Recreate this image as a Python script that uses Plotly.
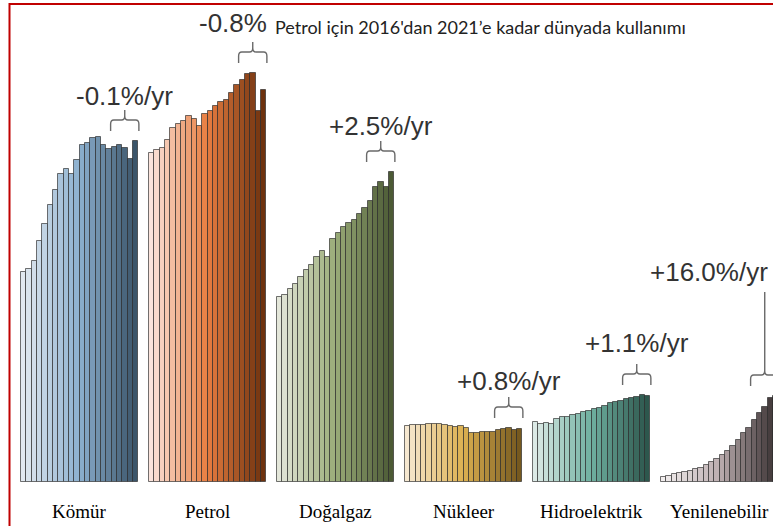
import plotly.graph_objects as go

# ==========================================
# Veri: 2000-2021 birincil enerji tüketimi (görece birim)
# ==========================================
years = list(range(2000, 2022))
sources = ["Kömür", "Petrol", "Doğalgaz", "Nükleer", "Hidroelektrik", "Yenilenebilir"]

komur = [210, 213, 221, 241, 258, 277, 292, 308, 313, 308, 322, 337,
         339, 344, 345, 337, 333, 335, 337, 334, 323, 341]
petrol = [329, 332, 334, 342, 354, 358, 361, 366, 363, 356, 368, 371,
          376, 380, 382, 389, 397, 402, 408, 409, 371, 392]
dogalgaz = [185, 187, 193, 198, 205, 212, 217, 225, 231, 225, 243, 249,
            255, 259, 262, 268, 274, 281, 295, 300, 295, 310]
nukleer = [56, 57, 57, 57, 58, 58, 58, 57, 56, 55, 56, 54,
           49, 49, 50, 50, 50, 52, 53, 54, 52, 53]
hidro = [60, 58, 59, 58, 63, 65, 65, 67, 68, 70, 71, 73,
         74, 76, 79, 80, 81, 83, 84, 85, 87, 86]
yenilenebilir = [5, 6, 8, 9, 10, 11, 13, 14, 17, 20, 23, 27,
                 31, 36, 42, 49, 54, 62, 69, 75, 84, 86]

series = [komur, petrol, dogalgaz, nukleer, hidro, yenilenebilir]
rates = ["-0.1%/yr", "-0.8%", "+2.5%/yr", "+0.8%/yr", "+1.1%/yr", "+16.0%/yr"]
title_text = "Petrol için 2016'dan 2021’e kadar dünyada kullanımı"

# renk geçişleri (açık -> orta -> koyu)
palettes = [
    ["#e2e9f0", "#8cb0cf", "#3b556a"],
    ["#fbe4dc", "#e87d40", "#6e320e"],
    ["#e4e7da", "#9aac78", "#4c5a35"],
    ["#f6e8d0", "#dcb050", "#76591f"],
    ["#dceae6", "#6fb0a0", "#2d574d"],
    ["#f2eeee", "#bcaeb0", "#3b3233"],
]


def hex2rgb(h):
    h = h.lstrip("#")
    return [int(h[i:i + 2], 16) for i in (0, 2, 4)]


def ramp(pal, n):
    cols = []
    for i in range(n):
        t = i / (n - 1)
        if t <= 0.5:
            a, b, u = hex2rgb(pal[0]), hex2rgb(pal[1]), t / 0.5
        else:
            a, b, u = hex2rgb(pal[1]), hex2rgb(pal[2]), (t - 0.5) / 0.5
        c = [round(a[k] + (b[k] - a[k]) * u) for k in range(3)]
        cols.append(f"rgb({c[0]},{c[1]},{c[2]})")
    return cols


PITCH = 24          # grup aralığı (çubuk birimi)
N = len(years)
b0, b1 = years.index(2016), years.index(2021)

fig = go.Figure()
shapes = []
annos = []

for g, (name, vals) in enumerate(zip(sources, series)):
    xs = [g * PITCH + i for i in range(N)]
    fig.add_trace(go.Bar(
        x=xs, y=vals, width=1, name=name, showlegend=False,
        customdata=years, hovertemplate=name + " %{customdata}: %{y}<extra></extra>",
        marker=dict(color=ramp(palettes[g], N), line=dict(color="rgba(40,40,40,0.65)", width=1)),
    ))

    # kategori etiketi
    annos.append(dict(x=g * PITCH + (N - 1) / 2, y=-29, text=name, showarrow=False,
                      font=dict(family="Liberation Serif", size=19, color="#000")))

    # 2016-2021 süslü parantez
    top = max(vals[b0:b1 + 1])
    x0 = g * PITCH + b0 + 0.3
    x1 = g * PITCH + b1 + 0.6
    xc = (x0 + x1) / 2
    yb, yh = top + 10, top + 21
    yt = 190 if g == 5 else yh + 10
    path = (f"M{x0},{yb} L{x0},{yh-4} Q{x0},{yh} {x0+0.6},{yh} L{xc-0.6},{yh} "
            f"Q{xc},{yh} {xc},{yh+4} L{xc},{yt} M{xc},{yh+4} Q{xc},{yh} {xc+0.6},{yh} "
            f"L{x1-0.6},{yh} Q{x1},{yh} {x1},{yh-4} L{x1},{yb}")
    shapes.append(dict(type="path", path=path, xref="x", yref="y",
                       line=dict(color="#6a6a6a", width=1.4)))

    # yüzde değişim metni
    lift = [14, 19, 15, 16, 21, 20][g]
    a = dict(x=xc, y=yt + lift, text=rates[g], showarrow=False, yanchor="middle",
             font=dict(family="Liberation Sans", size=26, color="#333"))
    if g == 1:
        a.update(x=x1, xanchor="right", xshift=2)
    elif g == 5:
        a.update(xshift=-56)
    annos.append(a)

# başlık
annos.append(dict(x=273 / 773, y=1 - 27 / 526, xref="paper", yref="paper", text=title_text,
                  showarrow=False, xanchor="left", yanchor="middle",
                  font=dict(family="Lato", size=18, color="#222")))

# kırmızı çerçeve
shapes.append(dict(type="rect", xref="paper", yref="paper", x0=9.5 / 773, x1=1.05,
                   y0=-0.05, y1=1 - 4 / 526, line=dict(color="#c00000", width=2)))

fig.update_layout(
    width=773, height=526, margin=dict(l=0, r=0, t=0, b=0),
    paper_bgcolor="white", plot_bgcolor="white",
    xaxis=dict(range=[-4.44, 140.5], visible=False, fixedrange=True),
    yaxis=dict(range=[-44, 482], visible=False, fixedrange=True),
    bargap=0, shapes=shapes, annotations=annos,
)

# sayfa kenar boşluğunu kaldır (grafik pencereye tam otursun)
fig.write_html("out.html", config={"displayModeBar": False},
               post_script="document.body.style.margin='0';document.body.style.overflow='hidden';")
